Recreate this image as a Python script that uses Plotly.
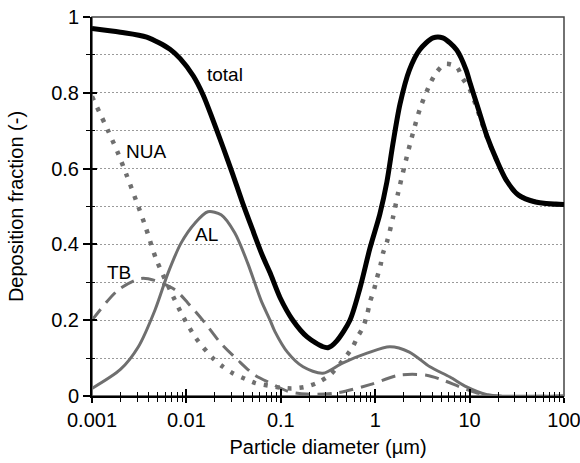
import plotly.graph_objects as go
import numpy as np

# ---------------- data ----------------
total_d = [0.001, 0.002, 0.0038, 0.0067, 0.0086, 0.0118, 0.015, 0.019, 0.0244, 0.031,
           0.0387, 0.05, 0.064, 0.077, 0.098, 0.134, 0.19, 0.28, 0.32, 0.39, 0.54, 0.69,
           0.88, 1.12, 1.33, 1.54, 1.83, 2.3, 2.95, 4.1, 5.2, 7.3, 9.2, 10.0, 12.1, 15.3,
           19.3, 24.4, 33, 50, 100]
total_y = [0.970, 0.960, 0.947, 0.915, 0.89, 0.845, 0.795, 0.73, 0.657, 0.585,
           0.515, 0.44, 0.37, 0.325, 0.26, 0.2, 0.156, 0.13, 0.128, 0.145, 0.2, 0.285,
           0.39, 0.48, 0.565, 0.665, 0.77, 0.86, 0.913, 0.945, 0.945, 0.913, 0.86, 0.83, 0.765, 0.685,
           0.623, 0.57, 0.53, 0.512, 0.505]

nua_d = [0.001, 0.00148, 0.00189, 0.00235, 0.00292, 0.00365, 0.0048, 0.0067, 0.0092, 0.0126,
         0.019, 0.0244, 0.031, 0.042, 0.054, 0.08, 0.1, 0.13, 0.18, 0.24, 0.33, 0.44, 0.57,
         0.65, 0.74, 0.82, 0.88, 0.97, 1.04, 1.14, 1.21, 1.33, 1.54, 1.75, 2.34, 3.0, 3.8,
         4.4, 5.5, 7.3, 8.4, 10.0, 12.1, 15.3, 19.3, 24.4, 33, 50, 100]
nua_y = [0.79, 0.70, 0.64, 0.58, 0.517, 0.45, 0.36, 0.28, 0.21, 0.153,
         0.10, 0.077, 0.06, 0.045, 0.034, 0.026, 0.022, 0.02, 0.024, 0.034, 0.055, 0.09, 0.127,
         0.156, 0.18, 0.214, 0.248, 0.28, 0.31, 0.346, 0.377, 0.406, 0.47, 0.536, 0.665, 0.76, 0.823,
         0.852, 0.876, 0.868, 0.839, 0.81, 0.755, 0.683, 0.623, 0.57, 0.53, 0.512, 0.505]

al_d = [0.001, 0.002, 0.0031, 0.00465, 0.0064, 0.0088, 0.0123, 0.0169, 0.0233, 0.0326,
        0.0447, 0.0616, 0.077, 0.0867, 0.118, 0.172, 0.279, 0.45, 0.82, 1.43, 2.3, 3.8,
        6.2, 9.3, 15, 20, 100]
al_y = [0.02, 0.07, 0.13, 0.227, 0.325, 0.404, 0.456, 0.486, 0.478, 0.43,
        0.35, 0.253, 0.2, 0.17, 0.115, 0.077, 0.06, 0.087, 0.113, 0.13, 0.116, 0.077,
        0.05, 0.024, 0.004, 0.0, 0.0]

tb_d = [0.001, 0.0019, 0.0033, 0.0046, 0.0076, 0.0104, 0.0157, 0.023, 0.035, 0.053,
        0.079, 0.12, 0.19, 0.39, 0.88, 1.8, 3.5, 5.2, 7.9, 12, 20, 100]
tb_y = [0.20, 0.28, 0.31, 0.305, 0.28, 0.245, 0.193, 0.14, 0.095, 0.055,
        0.033, 0.012, 0.005, 0.008, 0.03, 0.055, 0.055, 0.042, 0.024, 0.008, 0.0, 0.0]

labels = ["total", "NUA", "AL", "TB"]
label_x = [0.0257, 0.00373, 0.0165, 0.00193]
label_y = [0.847, 0.644, 0.425, 0.325]

x_tickvals = [0.001, 0.01, 0.1, 1, 10, 100]
x_ticktext = ["0.001", "0.01", "0.1", "1", "10", "100"]

FONT = "Liberation Sans, Arial, Helvetica, sans-serif"
GRAY = "#6f6f6f"

fig = go.Figure()
fig.add_trace(go.Scatter(x=nua_d, y=nua_y, mode="lines", name="NUA",
                         line=dict(color=GRAY, width=4.5, dash="4px,8px", shape="spline", smoothing=0.8),
                         xaxis="x", yaxis="y"))
fig.add_trace(go.Scatter(x=tb_d, y=tb_y, mode="lines", name="TB",
                         line=dict(color=GRAY, width=3, dash="14px,8px", shape="spline", smoothing=0.8),
                         xaxis="x2", yaxis="y"))
fig.add_trace(go.Scatter(x=al_d, y=al_y, mode="lines", name="AL",
                         line=dict(color=GRAY, width=3, shape="spline", smoothing=0.8),
                         xaxis="x", yaxis="y2"))
fig.add_trace(go.Scatter(x=total_d, y=total_y, mode="lines", name="total",
                         line=dict(color="black", width=5, shape="spline", smoothing=0.8),
                         xaxis="x", yaxis="y"))

for t, lx, ly in zip(labels, label_x, label_y):
    fig.add_annotation(x=np.log10(lx), y=ly, text=t, showarrow=False,
                       font=dict(size=19, color="black", family=FONT),
                       xref="x", yref="y")

xr = [-3, 2]
yr = [0, 1]

fig.update_layout(
    width=580, height=463,
    margin=dict(l=92, r=16, t=17, b=67, autoexpand=False),
    paper_bgcolor="white", plot_bgcolor="white",
    showlegend=False,
    font=dict(family=FONT, size=20, color="black"),
    xaxis=dict(type="log", range=xr, tickvals=x_tickvals, ticktext=x_ticktext,
               ticks="outside", ticklen=5, tickwidth=1.5, tickcolor="black",
               minor=dict(ticks="outside", ticklen=4, tickwidth=1.2, tickcolor="black",
                          dtick="D1", showgrid=False),
               showline=True, linecolor="black", linewidth=2,
               showgrid=False, zeroline=False, ticklabeloverflow="allow",
               tickfont=dict(size=20, family=FONT),
               title=dict(text="Particle diameter (µm)", font=dict(size=20, family=FONT), standoff=10),
               automargin=False),
    xaxis2=dict(type="log", range=xr, overlaying="x", anchor="y", side="bottom",
                tickvals=x_tickvals, ticks="inside", ticklen=7, tickwidth=1.5, tickcolor="black",
                minor=dict(ticks="inside", ticklen=4, tickwidth=1.2, tickcolor="black",
                           dtick="D1", showgrid=False),
                showticklabels=False, showgrid=False, zeroline=False, showline=False,
                automargin=False),
    yaxis=dict(range=yr, dtick=0.2, tick0=0,
               ticks="outside", ticklen=7, tickwidth=1.5, tickcolor="black",
               minor=dict(dtick=0.1, ticks="outside", ticklen=4, tickwidth=1.2, tickcolor="black",
                          showgrid=True, gridcolor="#9a9a9a", gridwidth=1, griddash="2px,2px"),
               showgrid=True, gridcolor="#9a9a9a", gridwidth=1, griddash="2px,2px",
               showline=True, linecolor="black", linewidth=2, zeroline=False,
               tickfont=dict(size=20, family=FONT),
               title=dict(text="Deposition fraction (-)", font=dict(size=20, family=FONT), standoff=22),
               automargin=False),
    yaxis2=dict(range=yr, dtick=0.2, tick0=0, overlaying="y", anchor="x", side="left",
                ticks="inside", ticklen=5, tickwidth=1.5, tickcolor="black",
                minor=dict(dtick=0.1, ticks="inside", ticklen=3, tickwidth=1.2, tickcolor="black",
                           showgrid=False),
                showticklabels=False, showgrid=False, zeroline=False, showline=False,
                automargin=False),
)

fig.add_shape(type="rect", xref="x domain", yref="y domain", x0=0, x1=1, y0=0, y1=1,
              line=dict(color="#444444", width=1.5), layer="below")

fig.write_html("out.html", config={"displayModeBar": False},
               post_script="document.body.style.margin='0';")
